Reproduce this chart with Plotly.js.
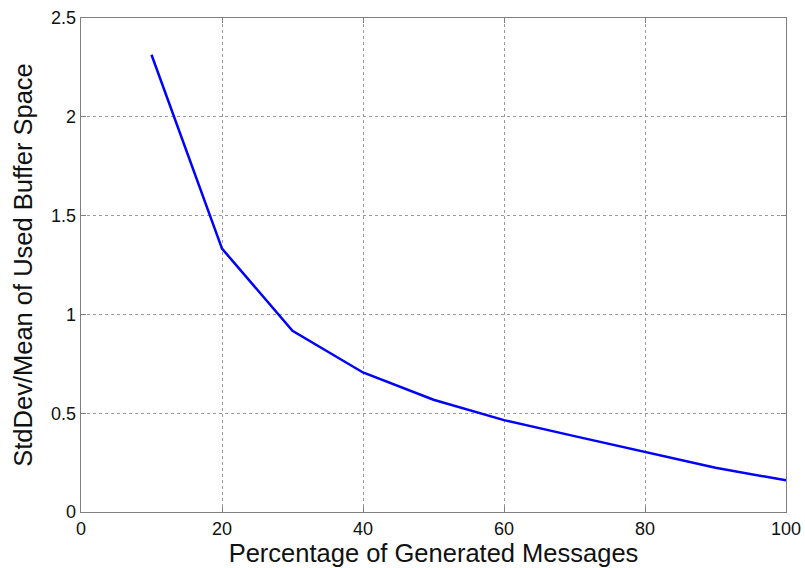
<!DOCTYPE html>
<html>
<head>
<meta charset="utf-8">
<script src="https://cdn.plot.ly/plotly-3.0.1.min.js"></script>
<style>
  html, body { margin: 0; padding: 0; background: #fff; }
  #chart { width: 805px; height: 568px; }
</style>
</head>
<body>
<div id="chart"></div>
<script>
// Percentage of generated messages (x) and the normalised spread of buffer use (y)
const percentGenerated = [10, 20, 30, 40, 50, 60, 70, 80, 90, 100];
const stdOverMean = [2.314, 1.333, 0.917, 0.706, 0.568, 0.465, 0.384, 0.305, 0.224, 0.16];

const xTicks = [0, 20, 40, 60, 80, 100];
const yTicks = [0, 0.5, 1, 1.5, 2, 2.5];

const fontFamily = '"Liberation Sans", Arial, Helvetica, sans-serif';

const trace = {
  x: percentGenerated,
  y: stdOverMean,
  type: 'scatter',
  mode: 'lines',
  line: { color: '#0000ff', width: 2.5 },
  hoverinfo: 'skip'
};

const axisCommon = {
  showline: true,
  linecolor: '#7f7f7f',
  linewidth: 1.3,
  mirror: 'ticks',
  ticks: 'inside',
  ticklen: 5,
  tickcolor: '#7f7f7f',
  showgrid: true,
  gridcolor: '#9a9a9a',
  griddash: 'dot',
  gridwidth: 1,
  zeroline: false,
  tickfont: { family: fontFamily, size: 18, color: '#111111' }
};

const layout = {
  width: 805,
  height: 568,
  margin: { l: 81, r: 19, t: 18, b: 56 },
  paper_bgcolor: '#ffffff',
  plot_bgcolor: '#ffffff',
  showlegend: false,
  xaxis: Object.assign({}, axisCommon, {
    range: [0, 100],
    tickvals: xTicks,
    ticktext: xTicks.map(String),
    automargin: false,
    ticklabelstandoff: 0,
    title: { text: 'Percentage of Generated Messages', font: { family: fontFamily, size: 25.5, color: '#111111' }, standoff: 4 }
  }),
  yaxis: Object.assign({}, axisCommon, {
    range: [0, 2.5],
    tickvals: yTicks,
    ticktext: yTicks.map(String),
    automargin: false,
    title: { text: 'StdDev/Mean of Used Buffer Space', font: { family: fontFamily, size: 25.5, color: '#111111' }, standoff: 11 }
  })
};

Plotly.newPlot('chart', [trace], layout, { displayModeBar: false, staticPlot: true });
</script>
</body>
</html>
